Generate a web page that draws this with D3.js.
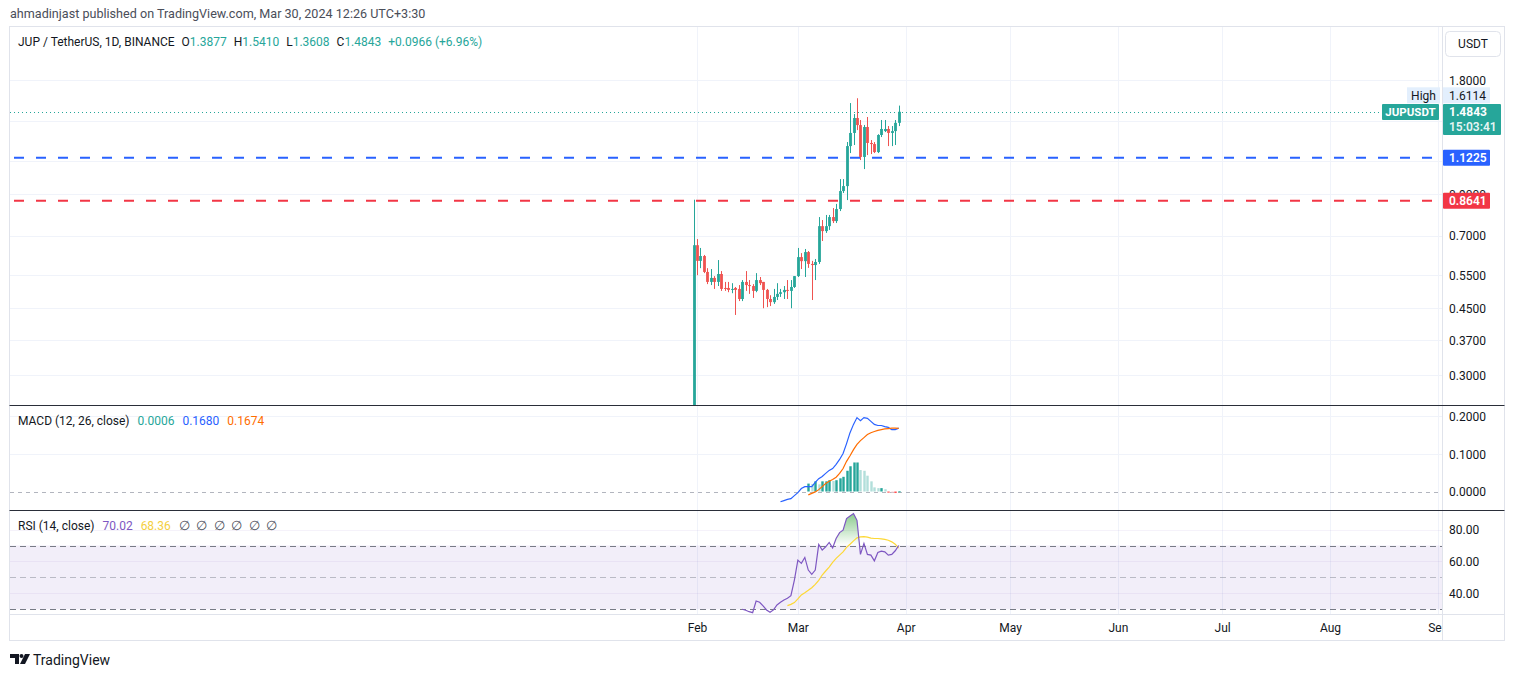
<!DOCTYPE html>
<html>
<head>
<meta charset="utf-8">
<script src="https://cdn.jsdelivr.net/npm/d3@7"></script>
<style>
  body { margin: 0; background: #ffffff; }
  svg { display: block; font-family: Roboto, "Noto Sans", sans-serif; }
</style>
</head>
<body>
<div id="chart"></div>
<script>
// ---- data ----
const startDate = "2024-01-31";
const opens  = [0.20, 0.66, 0.60, 0.618, 0.561, 0.528, 0.541, 0.528, 0.554, 0.509, 0.509, 0.503, 0.509, 0.506, 0.476, 0.528, 0.518, 0.515, 0.500, 0.534,
                0.528, 0.503, 0.476, 0.467, 0.482, 0.491, 0.496, 0.503, 0.500, 0.512, 0.547, 0.614, 0.599, 0.633, 0.589, 0.585, 0.596, 0.741, 0.719, 0.741,
                0.783, 0.764, 0.822, 0.917, 0.945, 1.205, 1.305, 1.429, 1.369, 1.128, 1.353, 1.228, 1.220, 1.162, 1.289, 1.320, 1.337, 1.305, 1.320, 1.3877];
const highs  = [0.87, 0.685, 0.649, 0.622, 0.574, 0.571, 0.547, 0.603, 0.564, 0.528, 0.528, 0.524, 0.512, 0.518, 0.534, 0.564, 0.534, 0.521, 0.557, 0.544,
                0.528, 0.506, 0.487, 0.506, 0.524, 0.506, 0.515, 0.534, 0.534, 0.547, 0.649, 0.629, 0.645, 0.637, 0.600, 0.607, 0.783, 0.769, 0.793, 0.793,
                0.827, 0.848, 0.986, 0.986, 1.235, 1.565, 1.464, 1.6114, 1.412, 1.370, 1.438, 1.250, 1.235, 1.295, 1.412, 1.412, 1.361, 1.361, 1.412, 1.541];
const lows   = [0.20, 0.55, 0.574, 0.557, 0.521, 0.518, 0.506, 0.515, 0.500, 0.500, 0.496, 0.493, 0.432, 0.470, 0.470, 0.500, 0.491, 0.479, 0.496, 0.518,
                0.450, 0.453, 0.456, 0.462, 0.473, 0.482, 0.476, 0.476, 0.450, 0.509, 0.544, 0.571, 0.544, 0.575, 0.473, 0.534, 0.589, 0.677, 0.711, 0.724,
                0.755, 0.755, 0.812, 0.906, 0.868, 1.155, 1.213, 1.328, 1.107, 1.048, 1.141, 1.148, 1.155, 1.155, 1.273, 1.312, 1.205, 1.205, 1.213, 1.3608];
const closes = [0.66, 0.60, 0.618, 0.561, 0.528, 0.541, 0.528, 0.554, 0.506, 0.506, 0.503, 0.506, 0.503, 0.476, 0.528, 0.518, 0.515, 0.500, 0.534, 0.524,
                0.503, 0.476, 0.467, 0.482, 0.491, 0.496, 0.503, 0.500, 0.512, 0.547, 0.614, 0.599, 0.633, 0.589, 0.585, 0.596, 0.741, 0.719, 0.741, 0.783,
                0.764, 0.822, 0.917, 0.945, 1.205, 1.305, 1.429, 1.369, 1.128, 1.353, 1.228, 1.220, 1.162, 1.289, 1.337, 1.337, 1.305, 1.320, 1.3877, 1.4843];

// MACD (12, 26) - line starts on candle 25, signal and histogram on candle 33
const macdStart = 25;
const macdLine = [-0.027, -0.024, -0.021, -0.019, -0.011, -0.003, 0.008, 0.013, 0.013, 0.013, 0.024, 0.034, 0.040, 0.048, 0.056, 0.061, 0.072, 0.085,
                  0.101, 0.127, 0.156, 0.178, 0.196, 0.188, 0.196, 0.194, 0.186, 0.178, 0.175, 0.175, 0.172, 0.170, 0.164, 0.164, 0.168];
const signalStart = 33;
const signalLine = [-0.009, -0.005, -0.001, 0.005, 0.013, 0.021, 0.027, 0.032, 0.038, 0.048, 0.061, 0.080, 0.095, 0.111, 0.125, 0.135, 0.143, 0.151,
                    0.156, 0.159, 0.162, 0.164, 0.166, 0.167, 0.168, 0.168, 0.1674];
const histValues = [0.021, 0.020, 0.027, 0.019, 0.027, 0.027, 0.030, 0.028, 0.030, 0.035, 0.039, 0.055, 0.067, 0.077, 0.077, 0.057, 0.055, 0.042,
                    0.027, 0.011, 0.009, 0.009, 0.006, -0.003, -0.002, -0.004, 0.0006];

// RSI (14) and its moving average
const rsiStart = 14;
const rsiValues = [30.0, 29.4, 28.5, 27.9, 35.2, 34.4, 32.1, 29.6, 28.1, 29.6, 32.7, 34.4, 35.8, 36.9, 38.5, 48.3, 60.8, 58.8, 62.5, 54.6, 51.9, 54.6,
                   70.6, 67.1, 69.2, 71.9, 68.5, 74.4, 78.1, 79.6, 86.9, 88.5, 90.0, 85.8, 64.4, 71.3, 64.4, 64.0, 60.4, 65.6, 66.5, 66.0, 64.0, 64.4, 66.7, 70.02];
const rsiMaStart = 27;
const rsiMaValues = [32.3, 33.1, 34.2, 36.5, 39.0, 40.4, 41.9, 43.5, 45.6, 48.1, 51.5, 54.0, 56.5, 59.4, 61.9, 64.0, 66.0, 68.8, 70.8, 72.9, 74.8,
                     75.4, 75.6, 75.2, 74.6, 74.4, 74.4, 74.2, 73.8, 73.3, 72.3, 70.8, 68.36];

// axes
const priceGrid = [0.3, 0.37, 0.45, 0.55, 0.7, 0.9, 1.1, 1.4, 1.8];
const priceLabels = [0.3, 0.37, 0.45, 0.55, 0.7, 0.9, 1.8];   // 1.1 and 1.4 sit under the price tags
const macdTicks = [0, 0.1, 0.2];
const rsiTicks = [40, 60, 80];
const rsiBands = [30, 50, 70];
const monthTicks = ["2024-02-01", "2024-03-01", "2024-04-01", "2024-05-01", "2024-06-01", "2024-07-01", "2024-08-01", "2024-09-01"];
const monthLabels = ["Feb", "Mar", "Apr", "May", "Jun", "Jul", "Aug", "Sep"];

// horizontal levels
const supportLevel = 1.1225;
const resistLevel = 0.8641;
const highValue = 1.6114;
const lastClose = 1.4843;

// ---- layout ----
const width = 1515, height = 677;
const frame = { left: 10, right: 1505, top: 27, bottom: 641, axisX: 1442 };
const panes = { main: [27, 405], macd: [405, 510], rsi: [510, 614] };
const colors = {
    up: "#26a69a", down: "#ef5350", text: "#131722", grid: "#f0f3fa", border: "#e0e3eb",
    sep: "#2a2e39", blue: "#2962ff", orange: "#ff6d00", red: "#f23645", purple: "#7e57c2", yellow: "#fdd835"
};
const font = "Roboto, 'Noto Sans', sans-serif";

const parse = d3.utcParse("%Y-%m-%d");
const firstDay = parse(startDate);
const candles = closes.map((c, i) => ({ date: d3.utcDay.offset(firstDay, i), o: opens[i], h: highs[i], l: lows[i], c }));
const dayOf = i => d3.utcDay.offset(firstDay, i);

const svg = d3.select("#chart").append("svg").attr("width", width).attr("height", height);
svg.append("rect").attr("width", width).attr("height", height).attr("fill", "#fff");

// scales
const xScale = d3.scaleUtc().domain([parse("2024-02-01"), parse("2024-09-01")]).range([697, 1437.8]);
const yPrice = d3.scaleLog().domain([0.25, 2.484]).range([panes.main[1], panes.main[0]]);
const yMacd = d3.scaleLinear().domain([-0.049, 0.2294]).range([panes.macd[1], panes.macd[0]]);
const yRsi = d3.scaleLinear().domain([27.05, 92.26]).range([panes.rsi[1], panes.rsi[0]]);

// clip paths
const defs = svg.append("defs");
Object.entries(panes).forEach(([k, [t, b]]) => {
    defs.append("clipPath").attr("id", "clip-" + k)
        .append("rect").attr("x", frame.left).attr("y", t).attr("width", frame.axisX - frame.left).attr("height", b - t);
});
defs.append("clipPath").attr("id", "clip-time")
    .append("rect").attr("x", frame.left).attr("y", panes.rsi[1]).attr("width", frame.axisX - frame.left).attr("height", 30);
defs.append("clipPath").attr("id", "clip-ob")
    .append("rect").attr("x", frame.left).attr("y", panes.rsi[0]).attr("width", frame.axisX - frame.left).attr("height", yRsi(70) - panes.rsi[0]);
const grad = defs.append("linearGradient").attr("id", "ob-grad")
    .attr("gradientUnits", "userSpaceOnUse").attr("x1", 0).attr("x2", 0)
    .attr("y1", yRsi(90)).attr("y2", yRsi(70));
grad.append("stop").attr("offset", 0).attr("stop-color", "#4caf50").attr("stop-opacity", 0.65);
grad.append("stop").attr("offset", 1).attr("stop-color", "#4caf50").attr("stop-opacity", 0.0);

// ---- grid ----
const grid = svg.append("g");
grid.selectAll("line.v").data(monthTicks).join("line")
    .attr("x1", d => Math.round(xScale(parse(d))) + 0.5).attr("x2", d => Math.round(xScale(parse(d))) + 0.5)
    .attr("y1", frame.top).attr("y2", panes.rsi[1])
    .attr("stroke", colors.grid).attr("stroke-width", 1);
grid.selectAll("line.p").data(priceGrid).join("line")
    .attr("x1", frame.left).attr("x2", frame.axisX)
    .attr("y1", d => Math.round(yPrice(d)) + 0.5).attr("y2", d => Math.round(yPrice(d)) + 0.5)
    .attr("stroke", colors.grid);

// MACD grid
svg.append("g").selectAll("line").data([0.1, 0.2]).join("line")
    .attr("x1", frame.left).attr("x2", frame.axisX)
    .attr("y1", d => Math.round(yMacd(d)) + 0.5).attr("y2", d => Math.round(yMacd(d)) + 0.5)
    .attr("stroke", colors.grid);
svg.append("line").attr("x1", frame.left).attr("x2", frame.axisX)
    .attr("y1", Math.round(yMacd(0)) + 0.5).attr("y2", Math.round(yMacd(0)) + 0.5)
    .attr("stroke", "#b2b5be").attr("stroke-dasharray", "4,4");

// RSI band and grid
svg.append("rect").attr("x", frame.left).attr("width", frame.axisX - frame.left)
    .attr("y", yRsi(70)).attr("height", yRsi(30) - yRsi(70))
    .attr("fill", colors.purple).attr("fill-opacity", 0.1);
svg.append("g").selectAll("line").data(rsiTicks).join("line")
    .attr("x1", frame.left).attr("x2", frame.axisX)
    .attr("y1", d => Math.round(yRsi(d)) + 0.5).attr("y2", d => Math.round(yRsi(d)) + 0.5)
    .attr("stroke", colors.purple).attr("stroke-opacity", 0.08);
svg.append("g").selectAll("line").data(rsiBands).join("line")
    .attr("x1", frame.left).attr("x2", frame.axisX)
    .attr("y1", d => Math.round(yRsi(d)) + 0.5).attr("y2", d => Math.round(yRsi(d)) + 0.5)
    .attr("stroke", d => d === 50 ? "#9598a1" : "#787b86").attr("stroke-opacity", d => d === 50 ? 0.6 : 1)
    .attr("stroke-dasharray", "6,4");

// ---- main pane ----
const main = svg.append("g").attr("clip-path", "url(#clip-main)");

// last price dotted line
main.append("line").attr("x1", frame.left).attr("x2", frame.axisX)
    .attr("y1", Math.round(yPrice(lastClose)) + 0.5).attr("y2", Math.round(yPrice(lastClose)) + 0.5)
    .attr("stroke", colors.up).attr("stroke-width", 1).attr("stroke-dasharray", "1,3");

// levels
[[supportLevel, colors.blue], [resistLevel, colors.red]].forEach(([v, col]) => {
    main.append("line").attr("x1", 14).attr("x2", frame.axisX)
        .attr("y1", yPrice(v)).attr("y2", yPrice(v))
        .attr("stroke", col).attr("stroke-width", 2).attr("stroke-dasharray", "10,12");
});

// candles
const bodyW = 2.8;
const candleG = main.selectAll("g.candle").data(candles).join("g");
candleG.append("line")
    .attr("x1", d => Math.round(xScale(d.date)) + 0.5).attr("x2", d => Math.round(xScale(d.date)) + 0.5)
    .attr("y1", d => yPrice(d.h)).attr("y2", d => yPrice(d.l))
    .attr("stroke", d => d.c >= d.o ? colors.up : colors.down).attr("stroke-width", 1);
candleG.append("rect")
    .attr("x", d => Math.round(xScale(d.date)) + 0.5 - bodyW / 2)
    .attr("width", bodyW)
    .attr("y", d => yPrice(Math.max(d.o, d.c)))
    .attr("height", d => Math.max(1, Math.abs(yPrice(d.o) - yPrice(d.c))))
    .attr("fill", d => d.c >= d.o ? colors.up : colors.down);

// ---- MACD pane ----
const macdG = svg.append("g").attr("clip-path", "url(#clip-macd)");
const histW = 2.4;
macdG.selectAll("rect.hist").data(histValues).join("rect")
    .attr("x", (d, i) => Math.round(xScale(dayOf(signalStart + i))) + 0.5 - histW / 2)
    .attr("width", histW)
    .attr("y", d => Math.min(yMacd(d), yMacd(0)))
    .attr("height", d => Math.max(1, Math.abs(yMacd(d) - yMacd(0))))
    .attr("fill", (d, i) => {
        const prev = i > 0 ? histValues[i - 1] : d;
        if (d >= 0) return d >= prev ? "#26a69a" : "#b2dfdb";
        return d <= prev ? "#ff5252" : "#ffcdd2";
    });
const macdLineGen = start => d3.line()
    .x((d, i) => xScale(dayOf(start + i)))
    .y(d => yMacd(d));
macdG.append("path").datum(macdLine).attr("d", macdLineGen(macdStart))
    .attr("fill", "none").attr("stroke", "#2962ff").attr("stroke-width", 1.2);
macdG.append("path").datum(signalLine).attr("d", macdLineGen(signalStart))
    .attr("fill", "none").attr("stroke", colors.orange).attr("stroke-width", 1.2);

// ---- RSI pane ----
const rsiG = svg.append("g").attr("clip-path", "url(#clip-rsi)");
rsiG.append("g").attr("clip-path", "url(#clip-ob)")
    .append("path").datum(rsiValues)
    .attr("d", d3.area()
        .x((d, i) => xScale(dayOf(rsiStart + i)))
        .y0(yRsi(70)).y1(d => yRsi(d)))
    .attr("fill", "url(#ob-grad)");
rsiG.append("path").datum(rsiMaValues)
    .attr("d", d3.line().x((d, i) => xScale(dayOf(rsiMaStart + i))).y(d => yRsi(d)))
    .attr("fill", "none").attr("stroke", colors.yellow).attr("stroke-width", 1.2);
rsiG.append("path").datum(rsiValues)
    .attr("d", d3.line().x((d, i) => xScale(dayOf(rsiStart + i))).y(d => yRsi(d)))
    .attr("fill", "none").attr("stroke", colors.purple).attr("stroke-width", 1.2);

// ---- frame, separators ----
svg.append("rect").attr("x", frame.left - 0.5).attr("y", frame.top - 0.5)
    .attr("width", frame.right - frame.left).attr("height", frame.bottom - frame.top)
    .attr("fill", "none").attr("stroke", colors.border);
svg.append("line").attr("x1", frame.axisX + 0.5).attr("x2", frame.axisX + 0.5)
    .attr("y1", frame.top).attr("y2", frame.bottom).attr("stroke", colors.border);
svg.append("line").attr("x1", frame.left).attr("x2", frame.right)
    .attr("y1", panes.rsi[1] + 0.5).attr("y2", panes.rsi[1] + 0.5).attr("stroke", colors.border);
[panes.main[1], panes.macd[1]].forEach(y => {
    svg.append("line").attr("x1", frame.left - 0.5).attr("x2", frame.right - 0.5)
        .attr("y1", y + 0.5).attr("y2", y + 0.5).attr("stroke", colors.sep).attr("stroke-width", 1);
});

// ---- axes ----
const axisFont = g => g.call(s => s.select(".domain").remove())
    .call(s => s.selectAll(".tick line").remove())
    .call(s => s.selectAll(".tick text").attr("fill", colors.text).attr("font-size", 12)
        .attr("font-family", font).attr("x", 7).attr("dy", "0.35em"));

svg.append("g").attr("transform", `translate(${frame.axisX},0)`)
    .call(d3.axisRight(yPrice).tickValues(priceLabels).tickFormat(d3.format(".4f")).tickSize(0))
    .call(axisFont);
svg.append("g").attr("transform", `translate(${frame.axisX},0)`)
    .call(d3.axisRight(yMacd).tickValues(macdTicks).tickFormat(d3.format(".4f")).tickSize(0))
    .call(axisFont);
svg.append("g").attr("transform", `translate(${frame.axisX},0)`)
    .call(d3.axisRight(yRsi).tickValues(rsiTicks).tickFormat(d3.format(".2f")).tickSize(0))
    .call(axisFont);

const timeAxis = svg.append("g").attr("clip-path", "url(#clip-time)")
    .append("g").attr("transform", `translate(0,${panes.rsi[1]})`)
    .call(d3.axisBottom(xScale).tickValues(monthTicks.map(parse))
        .tickFormat((d, i) => monthLabels[i]).tickSize(0));
timeAxis.select(".domain").remove();
timeAxis.selectAll(".tick text").attr("fill", colors.text).attr("font-size", 12)
    .attr("font-family", font).attr("y", 9).attr("dy", "0.71em");

// ---- price tags on the axis ----
function axisTag(y, text, bg, fg, w = 47, h = 16) {
    svg.append("rect").attr("x", frame.axisX + 1).attr("y", y - h / 2).attr("width", w).attr("height", h)
        .attr("fill", bg).attr("rx", 1);
    svg.append("text").attr("x", frame.axisX + 7).attr("y", y).attr("dy", "0.35em")
        .attr("font-size", 12).attr("font-weight", 600).attr("fill", fg).text(text);
}
// high
const yHigh = 95.3;
svg.append("rect").attr("x", 1407).attr("y", yHigh - 8).attr("width", 33).attr("height", 16).attr("fill", "#e3effd");
svg.append("text").attr("x", 1423.5).attr("y", yHigh).attr("dy", "0.35em").attr("text-anchor", "middle")
    .attr("font-size", 12).attr("fill", colors.text).text("High");
svg.append("rect").attr("x", frame.axisX + 1).attr("y", yHigh - 8).attr("width", 47).attr("height", 16).attr("fill", "#e3effd");
svg.append("text").attr("x", frame.axisX + 7).attr("y", yHigh).attr("dy", "0.35em")
    .attr("font-size", 12).attr("fill", colors.text).text(d3.format(".4f")(highValue));

// last price
const yLast = yPrice(lastClose);
svg.append("rect").attr("x", 1382).attr("y", 104).attr("width", 57).attr("height", 16).attr("fill", colors.up).attr("rx", 1);
svg.append("text").attr("x", 1410.5).attr("y", 112).attr("dy", "0.35em").attr("text-anchor", "middle")
    .attr("font-size", 11.5).attr("font-weight", 700).attr("fill", "#fff").text("JUPUSDT");
svg.append("rect").attr("x", frame.axisX + 1).attr("y", 104).attr("width", 58).attr("height", 31).attr("fill", colors.up).attr("rx", 1);
svg.append("text").attr("x", frame.axisX + 7).attr("y", yLast).attr("dy", "0.35em")
    .attr("font-size", 12).attr("font-weight", 700).attr("fill", "#fff").text(d3.format(".4f")(lastClose));
svg.append("text").attr("x", frame.axisX + 7).attr("y", 127).attr("dy", "0.35em")
    .attr("font-size", 12).attr("font-weight", 600).attr("fill", "#fff").attr("fill-opacity", 0.9).text("15:03:41");

axisTag(yPrice(supportLevel), d3.format(".4f")(supportLevel), colors.blue, "#fff");
axisTag(yPrice(resistLevel), d3.format(".4f")(resistLevel), colors.red, "#fff");

// USDT button
svg.append("rect").attr("x", 1445.5).attr("y", 31.5).attr("width", 55).attr("height", 25).attr("rx", 4)
    .attr("fill", "#fff").attr("stroke", colors.border);
svg.append("text").attr("x", 1473).attr("y", 44).attr("dy", "0.35em").attr("text-anchor", "middle")
    .attr("font-size", 12).attr("fill", colors.text).text("USDT");

// ---- texts ----
svg.append("text").attr("x", 10).attr("y", 14).attr("dy", "0.35em")
    .attr("font-size", 12.6).attr("fill", "#4a4e59")
    .text("ahmadinjast published on TradingView.com, Mar 30, 2024 12:26 UTC+3:30");

const legend = svg.append("text").attr("x", 18).attr("y", 42).attr("dy", "0.35em").attr("font-size", 12).attr("fill", colors.text);
legend.append("tspan").text("JUP / TetherUS, 1D, BINANCE");
[["O", "1.3877"], ["H", "1.5410"], ["L", "1.3608"], ["C", "1.4843"]].forEach(([k, v]) => {
    legend.append("tspan").attr("dx", 7).text(k);
    legend.append("tspan").attr("fill", colors.up).text(v);
});
legend.append("tspan").attr("dx", 7).attr("fill", colors.up).text("+0.0966 (+6.96%)");

const macdLegend = svg.append("text").attr("x", 18).attr("y", 421).attr("dy", "0.35em").attr("font-size", 12).attr("fill", colors.text);
macdLegend.append("tspan").text("MACD (12, 26, close)");
macdLegend.append("tspan").attr("dx", 8).attr("fill", colors.up).text("0.0006");
macdLegend.append("tspan").attr("dx", 8).attr("fill", "#2962ff").text("0.1680");
macdLegend.append("tspan").attr("dx", 8).attr("fill", colors.orange).text("0.1674");

const rsiLegend = svg.append("text").attr("x", 18).attr("y", 526).attr("dy", "0.35em").attr("font-size", 12).attr("fill", colors.text);
rsiLegend.append("tspan").text("RSI (14, close)");
rsiLegend.append("tspan").attr("dx", 8).attr("fill", colors.purple).text("70.02");
rsiLegend.append("tspan").attr("dx", 8).attr("fill", "#f4d03f").text("68.36");
d3.range(6).forEach(k => {
    rsiLegend.append("tspan").attr("dx", k === 0 ? 8 : 6.5).attr("fill", "#50535e").attr("font-size", 13).text("∅");
});

// logo
const logo = svg.append("g").attr("transform", "translate(10,654)");
logo.append("path").attr("d", "M0,0 H9 V10 H5 V4 H0 Z").attr("fill", colors.text);
logo.append("circle").attr("cx", 11.5).attr("cy", 2).attr("r", 2).attr("fill", colors.text);
logo.append("path").attr("d", "M15,0 H20 L15,10 H10 Z").attr("fill", colors.text);
svg.append("text").attr("x", 33).attr("y", 660).attr("dy", "0.35em").attr("font-size", 14).attr("fill", colors.text).text("TradingView");
</script>
</body>
</html>
